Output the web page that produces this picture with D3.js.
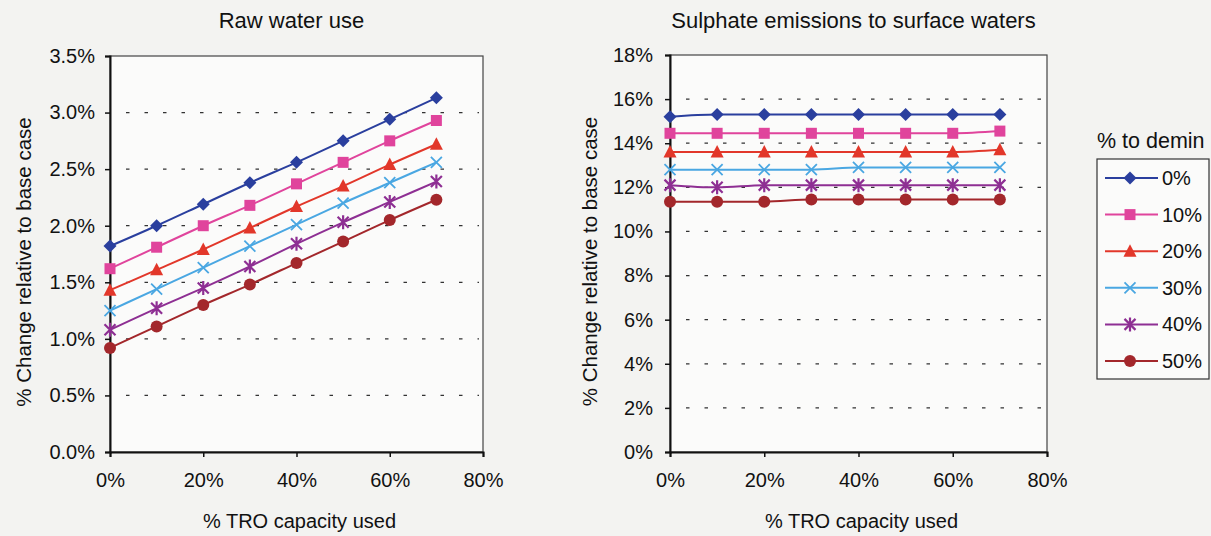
<!DOCTYPE html>
<html>
<head>
<meta charset="utf-8">
<script src="https://cdn.jsdelivr.net/npm/d3@7"></script>
<style>
  body { margin: 0; background: #f3f3f1; }
  text { font-family: "Liberation Sans", Arial, sans-serif; fill: #111; }
</style>
</head>
<body>
<svg id="chart" width="1211" height="536"></svg>
<script>
// x positions, % TRO capacity used
var troCap = [0, 10, 20, 30, 40, 50, 60, 70];
var seriesNames = ["0%", "10%", "20%", "30%", "40%", "50%"];

// raw water use, % change
var rawWater0  = [1.82, 2.00, 2.19, 2.38, 2.56, 2.75, 2.94, 3.13];
var rawWater10 = [1.62, 1.81, 2.00, 2.18, 2.37, 2.56, 2.75, 2.93];
var rawWater20 = [1.43, 1.61, 1.79, 1.98, 2.17, 2.35, 2.54, 2.72];
var rawWater30 = [1.25, 1.44, 1.63, 1.82, 2.01, 2.20, 2.38, 2.56];
var rawWater40 = [1.08, 1.27, 1.45, 1.64, 1.84, 2.03, 2.21, 2.39];
var rawWater50 = [0.92, 1.11, 1.30, 1.48, 1.67, 1.86, 2.05, 2.23];

// sulphate emissions, % change
var sulphate0  = [15.2, 15.3, 15.3, 15.3, 15.3, 15.3, 15.3, 15.3];
var sulphate10 = [14.45, 14.45, 14.45, 14.45, 14.45, 14.45, 14.45, 14.55];
var sulphate20 = [13.6, 13.6, 13.6, 13.6, 13.6, 13.6, 13.6, 13.7];
var sulphate30 = [12.8, 12.8, 12.8, 12.8, 12.9, 12.9, 12.9, 12.9];
var sulphate40 = [12.1, 12.0, 12.1, 12.1, 12.1, 12.1, 12.1, 12.1];
var sulphate50 = [11.35, 11.35, 11.35, 11.45, 11.45, 11.45, 11.45, 11.45];

var xTicks = [0, 20, 40, 60, 80];
var rawTicks = [0, 0.5, 1.0, 1.5, 2.0, 2.5, 3.0, 3.5];
var sulTicks = [0, 2, 4, 6, 8, 10, 12, 14, 16, 18];

var colors = ["#2a3f9e", "#e0449c", "#e2372a", "#4aa7e2", "#8e2f93", "#a3272b"];
var shapes = ["diamond", "square", "triangle", "cross", "star", "circle"];

var svg = d3.select("#chart");

function drawMarker(g, shape, color) {
  if (shape == "diamond") {
    g.append("path").attr("d", "M0,-6.5L6.5,0L0,6.5L-6.5,0Z").attr("fill", color);
  } else if (shape == "square") {
    g.append("rect").attr("x", -5.5).attr("y", -5.5).attr("width", 11).attr("height", 11)
      .attr("fill", color);
  } else if (shape == "triangle") {
    g.append("path").attr("d", "M0,-7L6.5,5.5L-6.5,5.5Z").attr("fill", color);
  } else if (shape == "cross") {
    g.append("path").attr("d", "M-5.5,-5.5L5.5,5.5M-5.5,5.5L5.5,-5.5").attr("stroke", color).attr("stroke-width", 1.8);
  } else if (shape == "star") {
    g.append("path").attr("d", "M-5.5,-5.5L5.5,5.5M-5.5,5.5L5.5,-5.5M0,-7L0,7").attr("stroke", color).attr("stroke-width", 2.2);
  } else {
    g.append("circle").attr("r", 6).attr("fill", color);
  }
}

function panel(opts) {
  var x = d3.scaleLinear().domain([0, 80]).range([opts.left, opts.right]);
  var y = d3.scaleLinear().domain(opts.yDomain).range([opts.bottom, opts.top]);
  var g = svg.append("g");

  g.append("rect")
    .attr("x", opts.left).attr("y", opts.top)
    .attr("width", opts.right - opts.left).attr("height", opts.bottom - opts.top)
    .attr("fill", "#fbfbfa").attr("stroke", "#444").attr("stroke-width", 1.2);

  // dotted grid
  g.selectAll(".grid")
    .data(opts.yTicks.filter(function(d) { return d > opts.yDomain[0] && d < opts.yDomain[1]; }))
    .enter().append("line")
    .attr("x1", opts.left + 16).attr("x2", opts.right - 4)
    .attr("y1", d => y(d)).attr("y2", d => y(d))
    .attr("stroke", "#333").attr("stroke-width", 1.3)
    .attr("stroke-dasharray", "3.5,15");

  var xAxis = g.append("g")
    .attr("transform", "translate(0," + opts.bottom + ")")
    .call(d3.axisBottom(x).tickValues(xTicks).tickSizeOuter(0).tickSize(5).tickPadding(16)
      .tickFormat(d => d + "%"));
  var yAxis = g.append("g")
    .attr("transform", "translate(" + opts.left + ",0)")
    .call(d3.axisLeft(y).tickValues(opts.yTicks).tickSizeOuter(0).tickSize(5).tickPadding(opts.yPad)
      .tickFormat(opts.fmt));
  [xAxis, yAxis].forEach(function(a) {
    a.select(".domain").attr("stroke", "#111").attr("stroke-width", 2);
    a.selectAll(".tick line").attr("stroke", "#111").attr("stroke-width", 1.5);
    a.selectAll("text").style("font-size", "20px").attr("fill", "#111");
  });

  var line = d3.line().x((d, i) => x(troCap[i])).y(d => y(d)).curve(d3.curveMonotoneX);

  opts.series.forEach(function(vals, k) {
    g.append("path").datum(vals)
      .attr("d", line).attr("fill", "none")
      .attr("stroke", colors[k]).attr("stroke-width", 2);
    vals.forEach(function(v, i) {
      var m = g.append("g").attr("transform", "translate(" + x(troCap[i]) + "," + y(v) + ")");
      drawMarker(m, shapes[k], colors[k]);
    });
  });

  g.append("text")
    .attr("x", (opts.left + opts.right) / 2 - 5).attr("y", 28)
    .attr("text-anchor", "middle").style("font-size", "22px")
    .text(opts.title);
  g.append("text")
    .attr("x", (opts.left + opts.right) / 2 + 3).attr("y", 528)
    .attr("text-anchor", "middle").style("font-size", "20px")
    .text("% TRO capacity used");
  g.append("text")
    .attr("transform", "translate(" + opts.yLabelX + "," + ((opts.top + opts.bottom) / 2 + 8) + ") rotate(-90)")
    .attr("text-anchor", "middle").style("font-size", "20.5px")
    .text("% Change relative to base case");
}

panel({
  left: 110, right: 483, top: 56, bottom: 452,
  yDomain: [0, 3.5], yTicks: rawTicks, fmt: d => d.toFixed(1) + "%", yPad: 10,
  series: [rawWater0, rawWater10, rawWater20, rawWater30, rawWater40, rawWater50],
  title: "Raw water use", yLabelX: 31
});

panel({
  left: 670, right: 1047, top: 55, bottom: 452,
  yDomain: [0, 18], yTicks: sulTicks, fmt: d => d + "%", yPad: 12,
  series: [sulphate0, sulphate10, sulphate20, sulphate30, sulphate40, sulphate50],
  title: "Sulphate emissions to surface waters", yLabelX: 597
});

// legend
var legend = svg.append("g");
legend.append("text").attr("x", 1097).attr("y", 148)
  .style("font-size", "21.5px").text("% to demin");
legend.append("rect").attr("x", 1097).attr("y", 159).attr("width", 112).attr("height", 220)
  .attr("fill", "#fbfbfa").attr("stroke", "#333").attr("stroke-width", 1.2);
var legY = d3.scalePoint().domain(seriesNames).range([178, 361]);
seriesNames.forEach(function(name, k) {
  var yy = legY(name);
  legend.append("line").attr("x1", 1105).attr("x2", 1158).attr("y1", yy).attr("y2", yy)
    .attr("stroke", colors[k]).attr("stroke-width", 2);
  drawMarker(legend.append("g").attr("transform", "translate(1130," + yy + ")"), shapes[k], colors[k]);
  legend.append("text").attr("x", 1162).attr("y", yy + 7).style("font-size", "20px").text(name);
});
</script>
</body>
</html>
